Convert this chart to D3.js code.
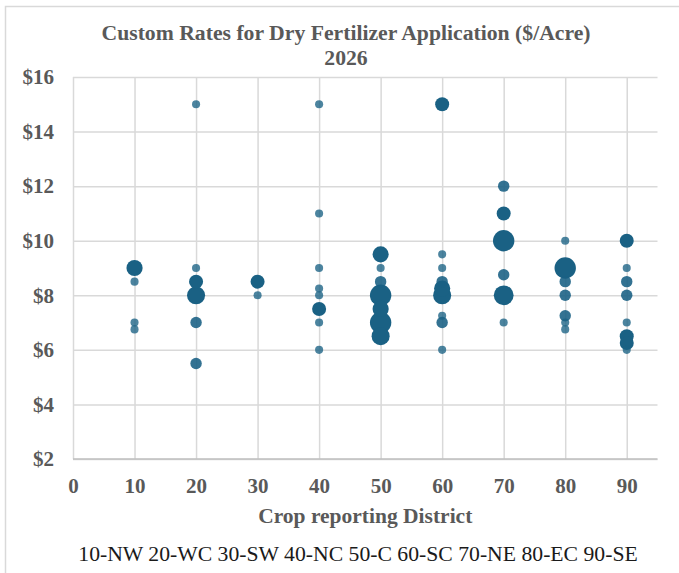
<!DOCTYPE html>
<html>
<head>
<meta charset="utf-8">
<script src="https://cdn.jsdelivr.net/npm/d3@7"></script>
<style>
  html, body { margin: 0; padding: 0; background: #fff; }
  svg { display: block; font-family: 'Liberation Serif', 'Times New Roman', serif; }
</style>
</head>
<body>
<svg class="chart" width="679" height="573"></svg>
<script>
// one entry per bubble: district, custom rate ($/acre), number of responses (bubble size)
const district = [
  10, 10, 10, 10,
  20, 20, 20, 20, 20, 20,
  30, 30,
  40, 40, 40, 40, 40, 40, 40, 40,
  50, 50, 50, 50, 50, 50, 50,
  60, 60, 60, 60, 60, 60, 60, 60, 60,
  70, 70, 70, 70, 70, 70,
  80, 80, 80, 80, 80, 80, 80,
  90, 90, 90, 90, 90, 90, 90, 90
];
const rate = [
  9, 8.5, 7, 6.75,
  15, 9, 8.5, 8, 7, 5.5,
  8.5, 8,
  15, 11, 9, 8.25, 8, 7.5, 7, 6,
  9.5, 9, 8.5, 8, 7.5, 7, 6.5,
  15, 9.5, 9, 8.5, 8.25, 8, 7.25, 7, 6,
  12, 11, 10, 8.75, 8, 7,
  10, 9, 8.5, 8, 7.25, 7, 6.75,
  10, 9, 8.5, 8, 7, 6.5, 6.25, 6
];
const responses = [
  4, 1, 1, 1,
  1, 1, 3, 5, 2, 2,
  3, 1,
  1, 1, 1, 1, 1, 3, 1, 1,
  4, 1, 2, 7, 4, 7, 5,
  3, 1, 1, 2, 4, 5, 1, 2, 1,
  2, 3, 7, 2, 6, 1,
  1, 7, 2, 2, 2, 1, 1,
  3, 1, 2, 2, 1, 3, 3, 1
];

const xTicks = [0, 10, 20, 30, 40, 50, 60, 70, 80, 90];
const yTicks = [2, 4, 6, 8, 10, 12, 14, 16];
const regionNote = ['10-NW', '20-WC', '30-SW', '40-NC', '50-C', '60-SC', '70-NE', '80-EC', '90-SE'];

const startApp = () => {
  const plot = { left: 73, right: 657.5, top: 77, bottom: 459 };
  const textGrey = '#595959';
  const gridGrey = '#d9d9d9';

  const xScale = d3.scaleLinear().domain([0, 95]).range([plot.left, plot.right]);
  const yScale = d3.scaleLinear().domain([2, 16]).range([plot.bottom, plot.top]);
  const rScale = d3.scaleSqrt().domain([0, 7]).range([0, 10.7]);
  const opacity = d3.scaleLinear().domain([1, 3]).range([0.78, 1]).clamp(true);

  const svg = d3.select('.chart');

  svg.append('rect')
    .attr('width', 679).attr('height', 573)
    .attr('fill', '#fff');

  svg.append('rect')
    .attr('x', 5.5).attr('y', 6.5)
    .attr('width', 700).attr('height', 600)
    .attr('fill', 'none')
    .attr('stroke', gridGrey)
    .attr('stroke-width', 1.5);

  // title
  const title = svg.append('text')
    .attr('text-anchor', 'middle')
    .attr('font-weight', 'bold')
    .attr('font-size', 21.7)
    .attr('fill', textGrey);
  title.append('tspan').attr('x', 346).attr('y', 40)
    .text('Custom Rates for Dry Fertilizer Application ($/Acre)');
  title.append('tspan').attr('x', 346).attr('y', 65)
    .text('2026');

  // gridlines + tick labels
  const yAxis = d3.axisLeft(yScale)
    .tickValues(yTicks)
    .tickSize(-(plot.right - plot.left))
    .tickPadding(19)
    .tickFormat(d => `$${d}`);

  const yG = svg.append('g')
    .attr('transform', `translate(${plot.left}, 0)`)
    .call(yAxis)
    .attr('font-family', null);
  yG.select('.domain').remove();
  yG.selectAll('.tick line')
    .attr('stroke', gridGrey)
    .attr('stroke-width', 1.5);
  yG.selectAll('.tick text')
    .attr('font-size', 21)
    .attr('font-weight', 'bold')
    .attr('fill', textGrey);

  const xAxis = d3.axisBottom(xScale)
    .tickValues(xTicks)
    .tickSize(-(plot.bottom - plot.top))
    .tickPadding(19)
    .tickFormat(d3.format('d'));

  const xG = svg.append('g')
    .attr('transform', `translate(0, ${plot.bottom})`)
    .call(xAxis)
    .attr('font-family', null);
  xG.select('.domain').remove();
  xG.selectAll('.tick line')
    .attr('stroke', gridGrey)
    .attr('stroke-width', 1.5);
  xG.selectAll('.tick text')
    .attr('font-size', 21)
    .attr('font-weight', 'bold')
    .attr('fill', textGrey);

  // keep the bottom axis line above the vertical gridlines
  svg.append('line')
    .attr('x1', plot.left).attr('x2', plot.right)
    .attr('y1', yScale(2)).attr('y2', yScale(2))
    .attr('stroke', '#bfbfbf')
    .attr('stroke-width', 1.5);

  // bubbles, big ones first so the single responses stay on top
  const points = district
    .map((d, i) => ({ district: d, rate: rate[i], n: responses[i] }))
    .sort((a, b) => b.n - a.n);

  svg.append('g').selectAll('circle')
    .data(points)
    .enter()
    .append('circle')
    .attr('cx', d => xScale(d.district))
    .attr('cy', d => yScale(d.rate))
    .attr('r', d => rScale(d.n))
    .attr('fill', '#1a6184')
    .attr('fill-opacity', d => opacity(d.n));

  svg.append('text')
    .attr('x', (plot.left + plot.right) / 2)
    .attr('y', 523)
    .attr('text-anchor', 'middle')
    .attr('font-weight', 'bold')
    .attr('font-size', 21.5)
    .attr('fill', textGrey)
    .text('Crop reporting District');

  svg.append('text')
    .attr('x', 358)
    .attr('y', 561)
    .attr('text-anchor', 'middle')
    .attr('font-size', 21.7)
    .attr('fill', '#1a1a1a')
    .text(regionNote.join(' '));
};

window.onload = startApp;
</script>
</body>
</html>
